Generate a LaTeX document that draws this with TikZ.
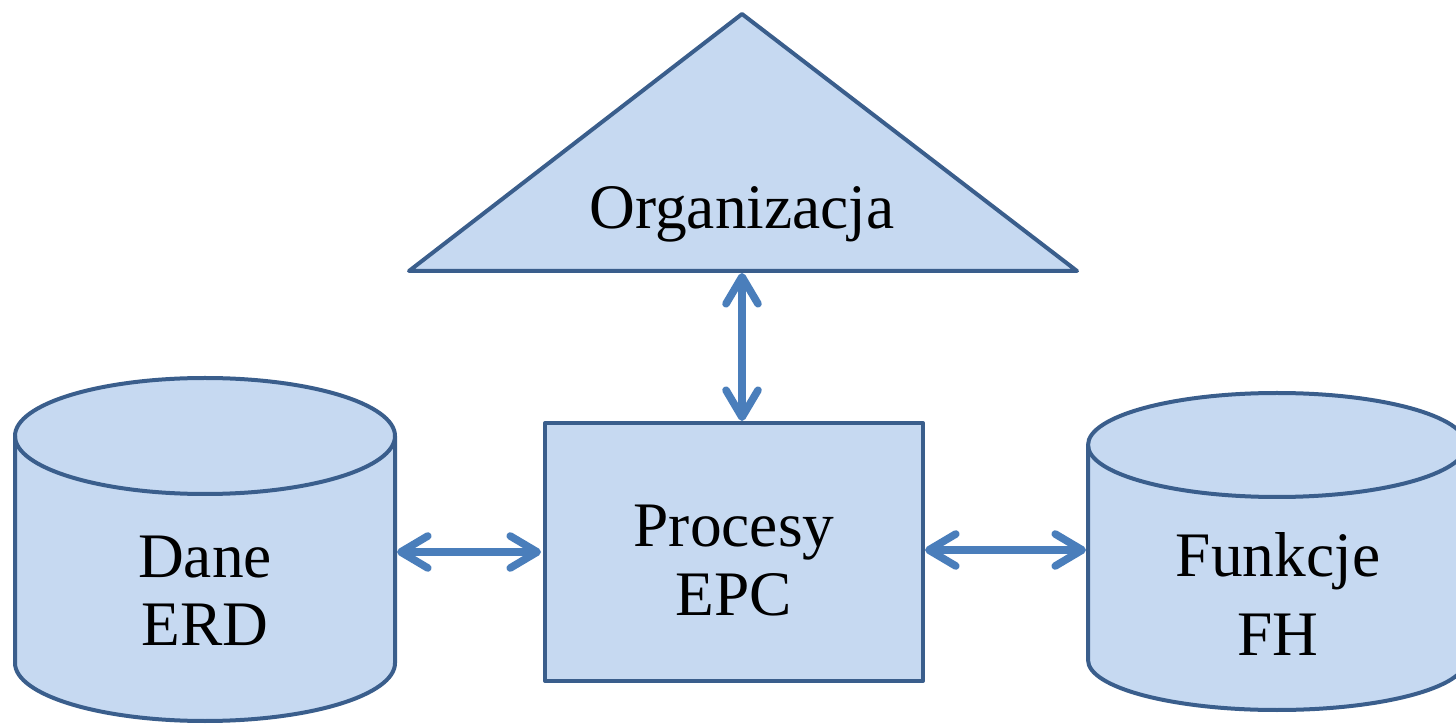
\documentclass[tikz,border=0pt]{standalone}
\usepackage{fontspec}
\setmainfont{Liberation Serif}
\usetikzlibrary{arrows.meta}
\definecolor{fillb}{HTML}{C6D9F1}
\definecolor{lineb}{HTML}{3A5E8C}
\definecolor{arrb}{HTML}{4A7EBB}
\begin{document}
\begin{tikzpicture}[x=0.5pt,y=0.5pt,
  shapeline/.style={draw=lineb,fill=fillb,line width=2pt,line join=round},
  edgeline/.style={draw=lineb,line width=2pt},
  lbl/.style={font=\fontsize{31.7}{34}\selectfont,anchor=base,inner sep=0pt},
  link/.style={draw=arrb,line width=3.8pt,{Straight Barb[length=13.5pt,width=16pt,round]}-{Straight Barb[length=13.5pt,width=16pt,round]},shorten <=1pt,shorten >=1pt}]
\useasboundingbox (0,0) rectangle (1456,723);
% triangle
\draw[shapeline] (742,709) -- (1077,452) -- (409,452) -- cycle;
\coordinate (org-s) at (742,452);
% rectangle
\node[shapeline,minimum width=189pt,minimum height=129pt,inner sep=0pt] (epc) at (734,171) {};
\coordinate (epc-n) at (742,300);
\coordinate (epc-e) at (923,173);
% left cylinder
\path[shapeline] (15,287) -- (15,60) arc[start angle=180,end angle=360,x radius=95pt,y radius=29pt] -- (395,287) arc[start angle=0,end angle=180,x radius=95pt,y radius=29pt] -- cycle;
\draw[edgeline] (15,287) arc[start angle=180,end angle=360,x radius=95pt,y radius=29pt];
\coordinate (dane-e) at (395,171);
% right cylinder
\path[shapeline] (1088,278) -- (1088,63) arc[start angle=180,end angle=360,x radius=94.5pt,y radius=25pt] -- (1466,278) arc[start angle=0,end angle=180,x radius=94.5pt,y radius=26pt] -- cycle;
\draw[edgeline] (1088,278) arc[start angle=180,end angle=360,x radius=94.5pt,y radius=26pt];
\coordinate (fh-w) at (1088,173);
% labels
\node[lbl] (org) at (742,494) {Organizacja};
\node[lbl] (proc1) at (734,176) {Procesy};
\node[lbl] (proc2) at (734,107) {EPC};
\node[lbl] (dane1) at (205,145) {Dane};
\node[lbl] (dane2) at (205,77) {ERD};
\node[lbl] (fun1) at (1278,146) {Funkcje};
\node[lbl] (fun2) at (1278,68) {FH};
% connectors
\draw[link] (org-s) -- (epc-n);
\draw[link] (dane-e) -- (epc.west);
\draw[link] (epc-e) -- (fh-w);
\end{tikzpicture}
\end{document}
